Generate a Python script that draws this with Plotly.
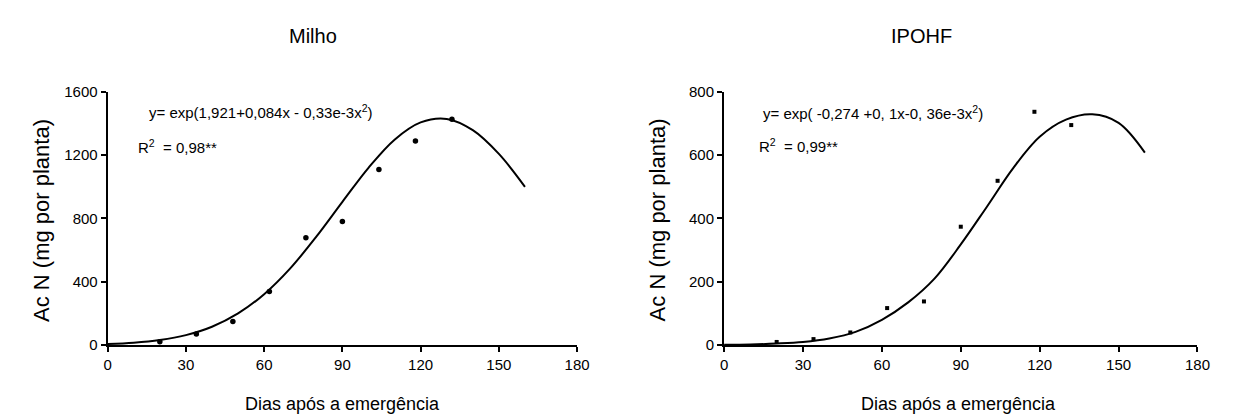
import plotly.graph_objects as go

# ---- data ----
dias = [20, 34, 48, 62, 76, 90, 104, 118, 132]
milho_obs = [22, 71, 149, 339, 678, 781, 1110, 1289, 1427]
dias_ipohf = [20, 34, 48, 62, 76, 90, 104, 118, 132]
ipohf_obs = [10, 19, 40, 117, 138, 374, 519, 737, 695]

curve_dias = [0, 10, 20, 30, 40, 50, 60, 70, 80, 90, 100, 110, 120, 130, 140, 150, 160]
milho_fit = [7, 15, 32, 63, 116, 200, 322, 485, 685, 905, 1120, 1298, 1407, 1429, 1358, 1208, 1000]
ipohf_fit = [1, 2, 5, 10, 21, 42, 80, 135, 210, 318, 438, 560, 658, 712, 729, 702, 608]

x_ticks = [0, 30, 60, 90, 120, 150, 180]
milho_yticks = [0, 400, 800, 1200, 1600]
ipohf_yticks = [0, 200, 400, 600, 800]

titles = ["Milho", "IPOHF"]
eq_texts = ["y= exp(1,921+0,084x - 0,33e-3x<sup>2</sup>)",
            "y= exp( -0,274 +0, 1x-0, 36e-3x<sup>2</sup>)"]
r2_texts = ["R<sup>2</sup>  = 0,98**", "R<sup>2</sup>  = 0,99**"]
x_title = "Dias após a emergência"
y_title = "Ac N (mg por planta)"

W, H = 1237, 419
FONT = "Liberation Sans, Arial, sans-serif"

def px_x(p):
    return p / W

def px_y(p):
    return 1 - p / H

fig = go.Figure()

fig.add_trace(go.Scatter(x=curve_dias, y=milho_fit, mode="lines", line=dict(color="black", width=2, shape="spline"),
                         xaxis="x", yaxis="y", showlegend=False, hoverinfo="skip"))
fig.add_trace(go.Scatter(x=dias, y=milho_obs, mode="markers", marker=dict(color="black", size=5.5, symbol="circle"),
                         xaxis="x", yaxis="y", showlegend=False, cliponaxis=False))
fig.add_trace(go.Scatter(x=curve_dias, y=ipohf_fit, mode="lines", line=dict(color="black", width=2, shape="spline"),
                         xaxis="x2", yaxis="y2", showlegend=False, hoverinfo="skip"))
fig.add_trace(go.Scatter(x=dias_ipohf, y=ipohf_obs, mode="markers", marker=dict(color="black", size=4, symbol="square"),
                         xaxis="x2", yaxis="y2", showlegend=False, cliponaxis=False))

ydom = [px_y(342), px_y(78)]
xdom1 = [px_x(97), px_x(573)]
xdom2 = [px_x(722), px_x(1202)]

axis_common = dict(showgrid=False, zeroline=False, showline=True, linecolor="black", linewidth=2,
                   ticks="outside", ticklen=5, tickwidth=2, tickcolor="black",
                   tickfont=dict(family=FONT, size=15, color="black"))

fig.update_layout(
    width=W, height=H,
    margin=dict(l=0, r=0, t=0, b=0),
    paper_bgcolor="white", plot_bgcolor="white",
    font=dict(family=FONT, color="black"),
    xaxis=dict(domain=xdom1, range=[0, 180], tickvals=x_ticks, anchor="y", **axis_common),
    yaxis=dict(domain=ydom, range=[0, 1600], tickvals=milho_yticks, anchor="x", **axis_common),
    xaxis2=dict(domain=xdom2, range=[0, 180], tickvals=x_ticks, anchor="y2", **axis_common),
    yaxis2=dict(domain=ydom, range=[0, 800], tickvals=ipohf_yticks, anchor="x2", **axis_common),
)

ann = []
# panel titles
ann.append(dict(text=titles[0], x=px_x(305), y=px_y(20), xref="paper", yref="paper", showarrow=False,
                font=dict(size=20, family=FONT), xanchor="center", yanchor="middle"))
ann.append(dict(text=titles[1], x=px_x(922), y=px_y(20), xref="paper", yref="paper", showarrow=False,
                font=dict(size=20, family=FONT), xanchor="center", yanchor="middle"))
# equations
ann.append(dict(text=eq_texts[0], x=px_x(137), y=px_y(98), xref="paper", yref="paper", showarrow=False,
                font=dict(size=15, family=FONT), xanchor="left", yanchor="middle"))
ann.append(dict(text=r2_texts[0], x=px_x(126), y=px_y(135), xref="paper", yref="paper", showarrow=False,
                font=dict(size=15, family=FONT), xanchor="left", yanchor="middle"))
ann.append(dict(text=eq_texts[1], x=px_x(759), y=px_y(100), xref="paper", yref="paper", showarrow=False,
                font=dict(size=15, family=FONT), xanchor="left", yanchor="middle"))
ann.append(dict(text=r2_texts[1], x=px_x(755), y=px_y(134), xref="paper", yref="paper", showarrow=False,
                font=dict(size=15, family=FONT), xanchor="left", yanchor="middle"))
# axis titles
for cx in (335, 960):
    ann.append(dict(text=x_title, x=px_x(cx), y=px_y(403), xref="paper", yref="paper", showarrow=False,
                    font=dict(size=18, family=FONT), xanchor="center", yanchor="middle"))
for cx in (30, 654):
    ann.append(dict(text=y_title, x=px_x(cx), y=px_y(212), xref="paper", yref="paper", showarrow=False,
                    textangle=-90, font=dict(size=22, family=FONT), xanchor="center", yanchor="middle"))

fig.update_layout(annotations=ann)

fig.write_html("out.html")
